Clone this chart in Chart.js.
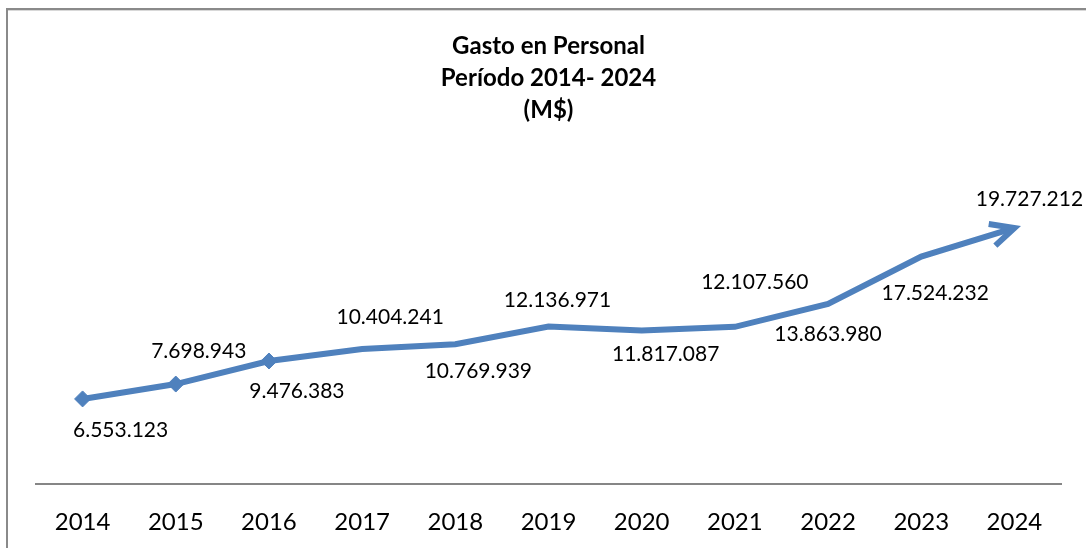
<!DOCTYPE html>
<html>
<head>
<meta charset="utf-8">
<script src="https://cdn.jsdelivr.net/npm/chart.js@4.4.1/dist/chart.umd.min.js"></script>
<style>
  html, body { margin: 0; padding: 0; background: #ffffff; }
  #wrap { position: relative; width: 1086px; height: 548px; overflow: hidden; background: #fff; }
  #frame { position: absolute; left: 6px; top: 8px; width: 1200px; height: 700px;
           border-left: 2px solid #8a8a8a; border-top: 2px solid #8a8a8a; }
  #frame2 { position: absolute; left: 8px; top: 10px; width: 1200px; height: 1px; background: #d8d8d8; }
  canvas { position: absolute; left: 0; top: 0; }
</style>
</head>
<body>
<div id="wrap">
  <div id="frame"></div>
  <div id="frame2"></div>
  <canvas id="c" width="1086" height="548"></canvas>
</div>
<script>
// ---- data ----
const years = ['2014','2015','2016','2017','2018','2019','2020','2021','2022','2023','2024'];
const gasto = [6553123, 7698943, 9476383, 10404241, 10769939, 12136971, 11817087, 12107560, 13863980, 17524232, 19727212];
const titleLines = ['Gasto en Personal', 'Período 2014- 2024', '(M$)'];

const BLUE = '#4F81BD';
function fmt(v) { return String(v).replace(/\B(?=(\d{3})+(?!\d))/g, '.'); }

const labelPlugin = {
  id: 'valueLabels',
  afterDatasetsDraw(chart, args, opts) {
    const ctx = chart.ctx;
    const meta = chart.getDatasetMeta(0);
    ctx.save();
    ctx.font = opts.font;
    ctx.fillStyle = '#000';
    ctx.textAlign = 'center';
    ctx.textBaseline = 'middle';
    meta.data.forEach((pt, i) => {
      const off = opts.offsets[i];
      ctx.fillText(fmt(chart.data.datasets[0].data[i]), pt.x + off[0], pt.y + off[1]);
    });
    ctx.restore();
  }
};

const arrowPlugin = {
  id: 'arrowHead',
  afterDatasetsDraw(chart, args, opts) {
    const meta = chart.getDatasetMeta(0);
    const n = meta.data.length;
    const a = meta.data[n - 2], b = meta.data[n - 1];
    const ang = Math.atan2(b.y - a.y, b.x - a.x);
    const L = opts.length, w = opts.spread;
    const ctx = chart.ctx;
    ctx.save();
    ctx.strokeStyle = BLUE;
    ctx.lineWidth = opts.width;
    ctx.lineJoin = 'miter';
    ctx.lineCap = 'butt';
    ctx.beginPath();
    ctx.moveTo(b.x - L * Math.cos(ang - w), b.y - L * Math.sin(ang - w));
    ctx.lineTo(b.x, b.y);
    ctx.lineTo(b.x - L * Math.cos(ang + w), b.y - L * Math.sin(ang + w));
    ctx.stroke();
    ctx.restore();
  }
};

new Chart(document.getElementById('c'), {
  type: 'line',
  data: {
    labels: years,
    datasets: [{
      data: gasto,
      borderColor: BLUE,
      borderWidth: 6,
      tension: 0,
      fill: false,
      pointStyle: 'rectRot',
      pointRadius: ctx => (ctx.dataIndex < 3 ? 8 : 0),
      pointHoverRadius: 0,
      pointBackgroundColor: BLUE,
      pointBorderColor: BLUE,
      pointBorderWidth: 1
    }]
  },
  options: {
    responsive: false,
    devicePixelRatio: 1,
    animation: false,
    events: [],
    layout: { padding: { left: 36, right: 25, top: 0, bottom: 0 } },
    plugins: {
      legend: { display: false },
      tooltip: { enabled: false },
      title: {
        display: true,
        text: titleLines,
        color: '#000',
        font: { family: 'Lato', size: 24, weight: 'bold', lineHeight: 1.333 },
        padding: { top: 30, bottom: 33.5 }
      },
      valueLabels: {
        font: '21px Lato',
        offsets: [[38,31],[23,-33],[28,30],[28,-32],[23,27],[9,-26],[24,24],[20,-45],[0,30],[14,37],[15,-29]]
      },
      arrowHead: { length: 26, spread: 0.45, width: 6 }
    },
    scales: {
      x: {
        type: 'category',
        offset: true,
        grid: { display: false, drawTicks: false },
        border: { display: true, color: '#868686', width: 2 },
        ticks: { color: '#000', font: { family: 'Lato', size: 24 }, padding: 24, maxRotation: 0, autoSkip: false },
        afterFit(scale) { scale.height = 64; }
      },
      y: {
        display: false,
        min: 0,
        max: 25000000
      }
    }
  },
  plugins: [labelPlugin, arrowPlugin]
});
</script>
</body>
</html>
